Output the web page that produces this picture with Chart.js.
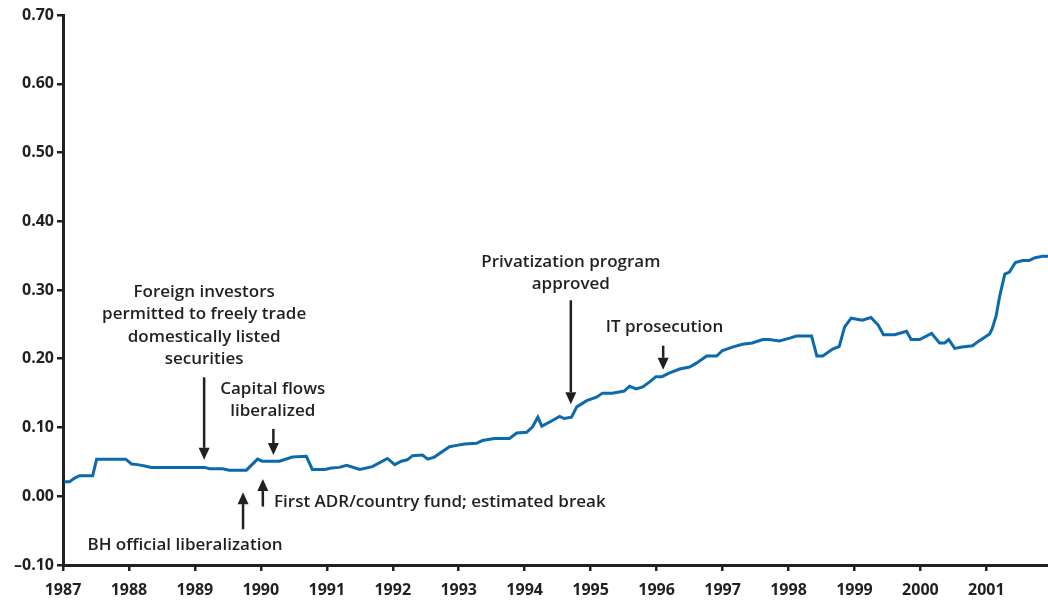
<!DOCTYPE html>
<html>
<head>
<meta charset="utf-8">
<script src="https://cdn.jsdelivr.net/npm/chart.js@4.4.0/dist/chart.umd.min.js"></script>
<style>
  html, body { margin: 0; padding: 0; background: #fff; }
  #wrap { width: 1048px; height: 601px; position: relative; }
</style>
</head>
<body>
<div id="wrap"><canvas id="chartLib"></canvas></div>
<script>
// dates (decimal years) and values
const dates = [
  1987.02, 1987.10, 1987.17, 1987.25, 1987.45, 1987.51, 1987.95, 1988.04, 1988.13, 1988.24,
  1988.34, 1989.15, 1989.22, 1989.42, 1989.52, 1989.78, 1989.95, 1990.02, 1990.28, 1990.48,
  1990.69, 1990.78, 1990.97, 1991.07, 1991.19, 1991.30, 1991.50, 1991.69, 1991.92, 1992.03,
  1992.13, 1992.22, 1992.30, 1992.45, 1992.53, 1992.63, 1992.86, 1992.97, 1993.09, 1993.27,
  1993.36, 1993.54, 1993.77, 1993.88, 1994.03, 1994.12, 1994.20, 1994.26, 1994.38, 1994.53,
  1994.60, 1994.71, 1994.79, 1994.94, 1995.09, 1995.18, 1995.33, 1995.51, 1995.59, 1995.69,
  1995.79, 1995.89, 1995.99, 1996.08, 1996.19, 1996.35, 1996.50, 1996.61, 1996.76, 1996.91,
  1997.00, 1997.15, 1997.30, 1997.45, 1997.61, 1997.71, 1997.86, 1998.02, 1998.12, 1998.35,
  1998.43, 1998.52, 1998.67, 1998.77, 1998.85, 1998.95, 1999.12, 1999.25, 1999.36, 1999.44,
  1999.61, 1999.79, 1999.86, 1999.99, 2000.17, 2000.29, 2000.37, 2000.43, 2000.52, 2000.63,
  2000.79, 2000.89, 2001.05, 2001.09, 2001.15, 2001.20, 2001.28, 2001.35, 2001.44, 2001.55,
  2001.65, 2001.74, 2001.85, 2001.94
];
const values = [
  0.021, 0.021, 0.026, 0.030, 0.030, 0.054, 0.054, 0.047, 0.046, 0.044,
  0.042, 0.042, 0.040, 0.040, 0.038, 0.038, 0.054, 0.051, 0.051, 0.057,
  0.058, 0.039, 0.039, 0.041, 0.042, 0.045, 0.039, 0.043, 0.055, 0.046,
  0.051, 0.053, 0.059, 0.060, 0.054, 0.057, 0.072, 0.074, 0.076, 0.077,
  0.081, 0.084, 0.084, 0.092, 0.093, 0.101, 0.115, 0.102, 0.108, 0.116,
  0.113, 0.115, 0.130, 0.139, 0.144, 0.150, 0.150, 0.153, 0.160, 0.156,
  0.159, 0.166, 0.174, 0.174, 0.179, 0.185, 0.188, 0.194, 0.204, 0.204,
  0.212, 0.217, 0.221, 0.223, 0.228, 0.228, 0.226, 0.230, 0.233, 0.233,
  0.204, 0.204, 0.214, 0.218, 0.246, 0.259, 0.256, 0.260, 0.249, 0.235,
  0.235, 0.240, 0.228, 0.228, 0.237, 0.223, 0.223, 0.228, 0.215, 0.217,
  0.219, 0.226, 0.236, 0.244, 0.263, 0.290, 0.323, 0.326, 0.340, 0.343,
  0.343, 0.347, 0.349, 0.349
];
const yearTicks = [1987, 1988, 1989, 1990, 1991, 1992, 1993, 1994, 1995, 1996, 1997, 1998, 1999, 2000, 2001];
const valueTicks = [-0.10, 0.00, 0.10, 0.20, 0.30, 0.40, 0.50, 0.60, 0.70];

// event notes: text lines, anchor in data units, arrow from -> to (data units)
const notes = [
  { lines: ['Foreign investors', 'permitted to freely trade', 'domestically listed', 'securities'],
    tx: 1989.14, ty: 0.297, align: 'center', ax: 1989.14, from: 0.173, to: 0.053 },
  { lines: ['Capital flows', 'liberalized'],
    tx: 1990.18, ty: 0.156, align: 'center', ax: 1990.19, from: 0.098, to: 0.060 },
  { lines: ['BH official liberalization'],
    tx: 1988.85, ty: -0.071, align: 'center', ax: 1989.73, from: -0.048, to: 0.006 },
  { lines: ['First ADR/country fund; estimated break'],
    tx: 1990.20, ty: -0.008, align: 'left', ax: 1990.03, from: -0.015, to: 0.025 },
  { lines: ['Privatization program', 'approved'],
    tx: 1994.70, ty: 0.341, align: 'center', ax: 1994.70, from: 0.285, to: 0.134 },
  { lines: ['IT prosecution'],
    tx: 1996.12, ty: 0.246, align: 'center', ax: 1996.10, from: 0.219, to: 0.184 }
];

const ink = '#231f20';
const noteFont = '600 17px "Open Sans"';

const notesPlugin = {
  id: 'notes',
  afterDatasetsDraw(chart) {
    const ctx = chart.ctx;
    const xs = chart.scales.x, ys = chart.scales.y;
    ctx.save();
    ctx.fillStyle = ink;
    ctx.strokeStyle = ink;
    ctx.font = noteFont;
    ctx.textBaseline = 'middle';
    notes.forEach(n => {
      ctx.textAlign = n.align;
      const px = xs.getPixelForValue(n.tx);
      let py = ys.getPixelForValue(n.ty);
      n.lines.forEach((t, i) => ctx.fillText(t, px, py + i * 22.5));

      // arrow
      const ax = xs.getPixelForValue(n.ax);
      const y0 = ys.getPixelForValue(n.from);
      const y1 = ys.getPixelForValue(n.to);
      const dir = y1 > y0 ? 1 : -1;
      const head = 12;
      ctx.lineWidth = 2.5;
      ctx.beginPath();
      ctx.moveTo(ax, y0);
      ctx.lineTo(ax, y1 - dir * head);
      ctx.stroke();
      ctx.beginPath();
      ctx.moveTo(ax, y1);
      ctx.lineTo(ax - 5.5, y1 - dir * head);
      ctx.lineTo(ax + 5.5, y1 - dir * head);
      ctx.closePath();
      ctx.fill();
    });
    ctx.restore();
  }
};

const points = dates.map((d, i) => ({ x: d, y: values[i] }));

new Chart(document.getElementById('chartLib').getContext('2d'), {
  type: 'line',
  data: {
    datasets: [{
      data: points,
      borderColor: '#0b6aab',
      borderWidth: 3,
      pointRadius: 0,
      tension: 0,
      fill: false
    }]
  },
  options: {
    responsive: true,
    maintainAspectRatio: false,
    animation: false,
    layout: { padding: { top: 15, right: 0, left: 0, bottom: 0 } },
    plugins: {
      legend: { display: false },
      tooltip: { enabled: false }
    },
    scales: {
      x: {
        type: 'linear',
        min: 1987,
        max: 2001.935,
        afterBuildTicks: s => { s.ticks = yearTicks.map(v => ({ value: v })); },
        afterFit: s => { s.height = 36; },
        border: { display: true, color: ink, width: 3 },
        grid: { drawOnChartArea: false, drawTicks: true, tickLength: 6, color: ink, lineWidth: 2.5 },
        ticks: {
          color: ink,
          padding: 10,
          maxRotation: 0,
          autoSkip: false,
          font: { family: '"Open Sans"', size: 16, weight: 'bold' },
          callback: v => String(v)
        }
      },
      y: {
        min: -0.10,
        max: 0.70,
        afterBuildTicks: s => { s.ticks = valueTicks.map(v => ({ value: v })); },
        afterFit: s => { s.width = 63; },
        border: { display: true, color: ink, width: 3 },
        grid: { drawOnChartArea: false, drawTicks: true, tickLength: 6, color: ink, lineWidth: 2.5 },
        ticks: {
          color: ink,
          padding: 3,
          font: { family: '"Open Sans"', size: 16, weight: 'bold' },
          callback: v => (v < 0 ? '\u2013' : '') + Math.abs(v).toFixed(2)
        }
      }
    }
  },
  plugins: [notesPlugin]
});
</script>
</body>
</html>
